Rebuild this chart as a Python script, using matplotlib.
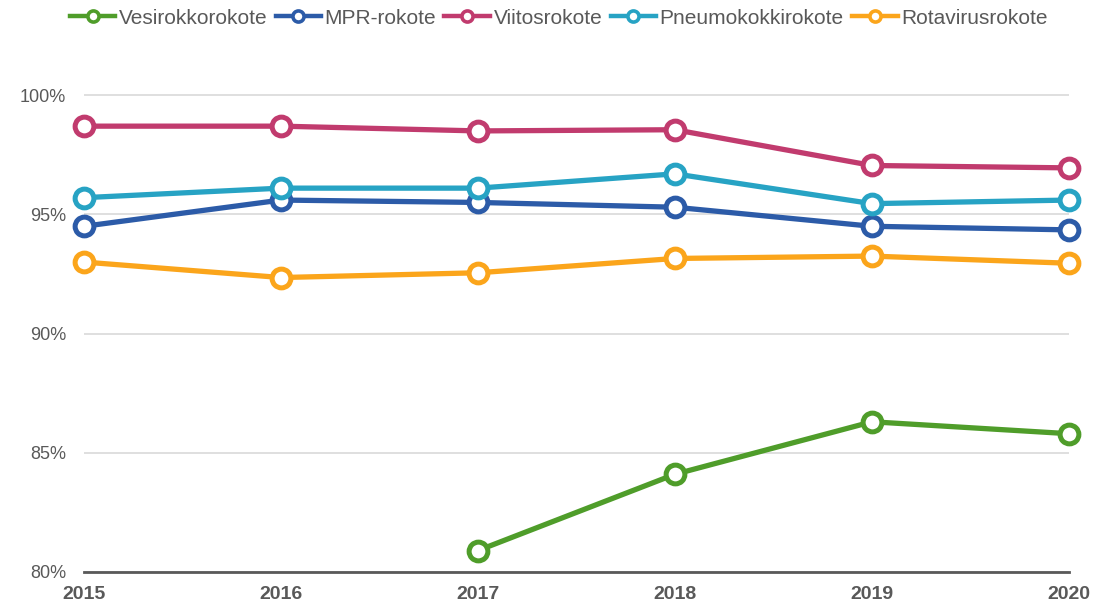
import numpy as np
import matplotlib
matplotlib.use("Agg")
import matplotlib.pyplot as plt
from matplotlib.lines import Line2D
from matplotlib.ticker import FuncFormatter

plt.rcParams["font.family"] = ["Liberation Sans", "DejaVu Sans"]

# ---------------------------------------------------------------------------
# DATA (coverage %)
# ---------------------------------------------------------------------------
YEARS = [2015, 2016, 2017, 2018, 2019, 2020]
VESIROKKO = [np.nan, np.nan, 80.9, 84.1, 86.3, 85.8]
MPR = [94.5, 95.6, 95.5, 95.3, 94.5, 94.35]
VIITOS = [98.7, 98.7, 98.5, 98.55, 97.05, 96.95]
PNEUMOKOKKI = [95.7, 96.1, 96.1, 96.7, 95.45, 95.6]
ROTAVIRUS = [93.0, 92.35, 92.55, 93.15, 93.25, 92.95]

SERIES = [
    ("Vesirokkorokote", VESIROKKO, "#4F9D2A"),
    ("MPR-rokote", MPR, "#2C5BA8"),
    ("Viitosrokote", VIITOS, "#C13B6E"),
    ("Pneumokokkirokote", PNEUMOKOKKI, "#27A3C4"),
    ("Rotavirusrokote", ROTAVIRUS, "#FBA51B"),
]
Y_TICKS = [80, 85, 90, 95, 100]
TEXT = "#595959"

fig = plt.figure(figsize=(11.17, 6.07), dpi=100)
ax = fig.add_axes([0.0752, 0.0577, 0.8818, 0.8248])

for i, (name, vals, col) in enumerate(SERIES):
    ax.plot(YEARS, vals, color=col, lw=3.8, marker="o", ms=13.5,
            mfc="white", mec=col, mew=3.6, clip_on=False,
            solid_joinstyle="round", label=name, zorder=3 + i)

ax.set_xlim(2015, 2020)
ax.set_ylim(80, 101)
ax.set_xticks(YEARS)
ax.set_yticks(Y_TICKS)
ax.yaxis.set_major_formatter(FuncFormatter(lambda v, _: f"{v:.0f}%"))
ax.grid(axis="y", color="#D9D9D9", lw=1.2, zorder=0)
for s in ["top", "right", "left"]:
    ax.spines[s].set_visible(False)
ax.spines["bottom"].set_color("#595959")
ax.spines["bottom"].set_linewidth(2)
ax.spines["bottom"].set_zorder(2)
ax.tick_params(axis="both", length=0)
ax.tick_params(axis="y", labelsize=13, labelcolor=TEXT, pad=13)
ax.tick_params(axis="x", labelsize=14, labelcolor=TEXT, pad=10)
for lab in ax.get_xticklabels():
    lab.set_fontweight("bold")

# smaller markers in the legend, as in the original
leg_handles = [Line2D([], [], color=col, lw=3.2, marker="o", ms=8,
                      mfc="white", mec=col, mew=2.6)
               for _, _, col in SERIES]
fig.legend(leg_handles, [n for n, _, _ in SERIES],
           loc="center", bbox_to_anchor=(0.5, 0.97), ncol=5, frameon=False,
           fontsize=15, labelcolor=TEXT, handlelength=2.2, handletextpad=0.15,
           columnspacing=0.4, borderaxespad=0)

fig.savefig("out.png", dpi=100, facecolor="white")
